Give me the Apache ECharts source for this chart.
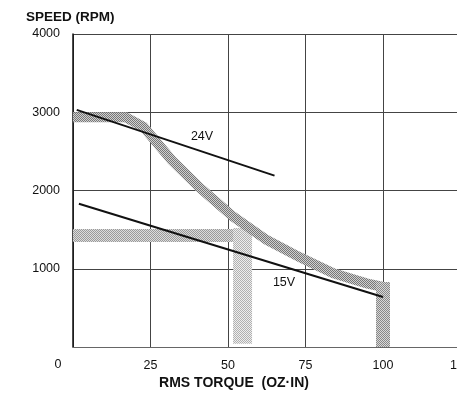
<!DOCTYPE html>
<html>
<head>
<meta charset="utf-8">
<script src="https://cdn.jsdelivr.net/npm/echarts@6/dist/echarts.min.js"></script>
<style>
  html, body { margin: 0; padding: 0; background: #fff; }
  #chart { width: 457px; height: 402px; }
</style>
</head>
<body>
<div id="chart"></div>
<script>
// values
const torqueMax = 125;
const speedMax = 4000;

// straight 24V and 15V lines [torque, rpm]
const line24V = [[1.2, 3030], [65, 2190]];
const line15V = [[1.9, 1830], [100, 640]];

// shaded operating bands
const band24V = [[0, 2935], [17, 2935], [22.7, 2815], [31.8, 2390], [41, 2032], [51.7, 1665],
  [62.5, 1367], [73.2, 1146], [84, 942], [94.7, 814], [100, 767]];
const band24VDrop = [[100, 830], [100, 0]];
const band15V = [[0, 1425], [54.7, 1425]];
const band15VDrop = [[54.7, 1520], [54.7, 40]];

// little dotted tile so the bands look like the printed screen
function stipple(dark, light, step) {
  const c = document.createElement('canvas');
  c.width = step * 2; c.height = step * 2;
  const g = c.getContext('2d');
  g.fillStyle = light;
  g.fillRect(0, 0, c.width, c.height);
  g.fillStyle = dark;
  g.fillRect(0, 0, step, step);
  g.fillRect(step, step, step, step);
  return { image: c, repeat: 'repeat' };
}

const font = 'Liberation Sans, Arial, Helvetica, sans-serif';
const chart = echarts.init(document.getElementById('chart'));

function band(data, width, color) {
  return {
    type: 'line', data: data, symbol: 'none', silent: true,
    lineStyle: { width: width, color: color, cap: 'butt', join: 'miter' },
    z: 1
  };
}

function blackLine(data) {
  return {
    type: 'line', data: data, symbol: 'none', silent: true,
    lineStyle: { width: 2, color: '#111' },
    z: 3
  };
}

chart.setOption({
  animation: false,
  grid: { left: 73, top: 34, width: 387.5, height: 313, outerBoundsMode: 'none', containLabel: false },
  xAxis: {
    type: 'value', min: 0, max: torqueMax, interval: 25,
    axisLine: { show: true, lineStyle: { color: '#666', width: 1 } },
    axisTick: { show: false },
    axisLabel: {
      margin: 12, fontFamily: font, fontSize: 12.5, color: '#111',
      formatter: v => v === 0 ? '' : String(v)
    },
    splitLine: { show: true, lineStyle: { color: '#444', width: 1 } }
  },
  yAxis: {
    type: 'value', min: 0, max: speedMax, interval: 1000,
    axisLine: { show: true, lineStyle: { color: '#111', width: 1.5 } },
    axisTick: { show: false },
    axisLabel: {
      margin: 13, fontFamily: font, fontSize: 12.5, color: '#111',
      formatter: v => v === 0 ? '' : String(v)
    },
    splitLine: { show: true, lineStyle: { color: '#444', width: 1 } }
  },
  graphic: [
    { type: 'text', x: 26, y: 10, style: { text: 'SPEED (RPM)', font: 'bold 13.5px ' + font, fill: '#111' } },
    { type: 'text', x: 234, y: 376, style: { text: 'RMS TORQUE  (OZ·IN)', font: 'bold 14px ' + font, fill: '#111', align: 'center' } },
    { type: 'text', x: 58, y: 358, style: { text: '0', font: '12.5px ' + font, fill: '#111', align: 'center' } },
    { type: 'text', x: 202, y: 130, style: { text: '24V', font: '12.5px ' + font, fill: '#111', align: 'center' } },
    { type: 'text', x: 284, y: 276, style: { text: '15V', font: '12.5px ' + font, fill: '#111', align: 'center' } }
  ],
  series: [
    band(band15V, 13, stipple('#9a9a9a', '#dcdcdc', 1)),
    band(band15VDrop, 19, stipple('#b0b0b0', '#eeeeee', 1)),
    band(band24V, 10, stipple('#777', '#d0d0d0', 1)),
    band(band24VDrop, 14, stipple('#888', '#d8d8d8', 1)),
    blackLine(line24V),
    blackLine(line15V)
  ]
});
</script>
</body>
</html>
